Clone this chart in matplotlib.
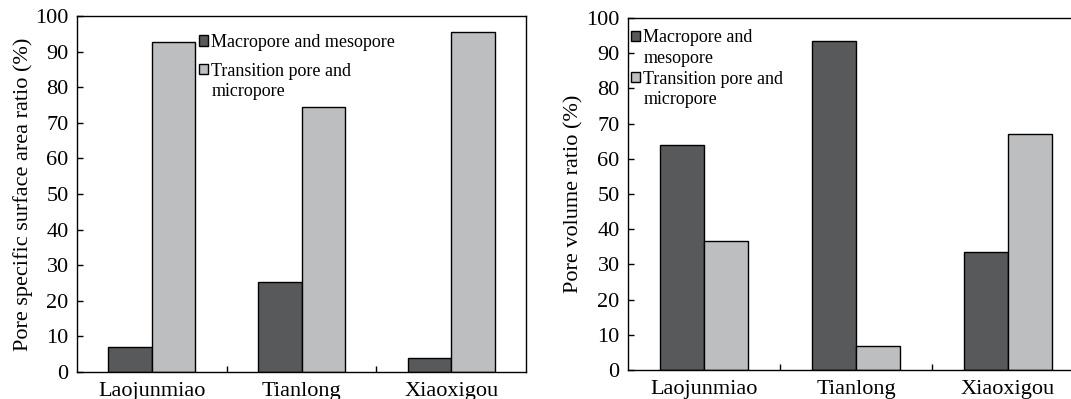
import numpy as np
import matplotlib.pyplot as plt
from matplotlib.patches import Rectangle
from matplotlib.ticker import FixedLocator

plt.rcParams['font.family'] = ['Liberation Serif', 'DejaVu Serif']

sites = ['Laojunmiao', 'Tianlong', 'Xiaoxigou']

# surface area share (%) per site
area_macro = [6.9, 25.2, 4.0]
area_micro = [92.8, 74.3, 95.5]

# pore volume share (%) per site
vol_macro = [64.0, 93.6, 33.5]
vol_micro = [36.7, 6.9, 67.1]

dark = '#58595b'
light = '#bcbec0'
bar_w = 0.29

fig = plt.figure(figsize=(10.71, 3.99), dpi=100)
ax1 = fig.add_axes([77 / 1071, 27 / 399, 449 / 1071, 356 / 399])
ax2 = fig.add_axes([628 / 1071, 29 / 399, 456 / 1071, 352 / 399])

leg_kw = dict(loc='upper left', frameon=False, fontsize=13, handlelength=0.5, handleheight=0.5,
              handletextpad=0.2, borderaxespad=0, labelspacing=0.2)


def blank():
    # spacer handle for wrapped legend lines
    return Rectangle((0, 0), 1, 1, facecolor='none', edgecolor='none')


def draw_panel(ax, macro, micro, ylabel):
    x = np.arange(len(sites))
    b1 = ax.bar(x - bar_w / 2, macro, bar_w, color=dark, edgecolor='black', linewidth=1)
    b2 = ax.bar(x + bar_w / 2, micro, bar_w, color=light, edgecolor='black', linewidth=1)
    ax.set_xlim(-0.5, 2.5)
    ax.set_ylim(0, 100)
    ax.set_yticks(np.arange(0, 101, 10))
    ax.set_xticks(x)
    ax.set_xticklabels(sites, fontsize=16)
    ax.xaxis.set_minor_locator(FixedLocator([0.5, 1.5]))
    ax.tick_params(axis='x', which='major', length=0, pad=7)
    ax.tick_params(axis='x', which='minor', direction='in', length=4, width=1)
    ax.tick_params(axis='y', direction='in', length=4, width=1, labelsize=16, pad=6)
    for s in ax.spines.values():
        s.set_linewidth(1)
    ax.set_ylabel(ylabel, fontsize=16, labelpad=2)
    return b1, b2


b1, b2 = draw_panel(ax1, area_macro, area_micro, 'Pore specific surface area ratio (%)')
leg = ax1.legend([b1], ['Macropore and mesopore'], bbox_to_anchor=(0.255, 0.97), **leg_kw)
ax1.add_artist(leg)
ax1.legend([b2, blank()], ['Transition pore and', 'micropore'],
           bbox_to_anchor=(0.255, 0.889), **leg_kw)

b1, b2 = draw_panel(ax2, vol_macro, vol_micro, 'Pore volume ratio (%)')
ax2.legend([b1, blank(), b2, blank()],
           ['Macropore and', 'mesopore', 'Transition pore and', 'micropore'],
           bbox_to_anchor=(-0.01, 0.988), **leg_kw)

fig.savefig('out.png', dpi=100)
